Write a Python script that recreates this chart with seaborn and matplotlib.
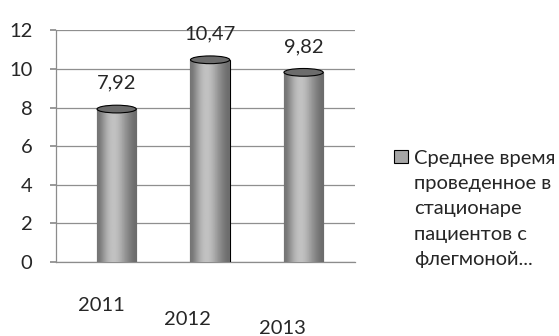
import numpy as np
import pandas as pd
import matplotlib
matplotlib.use("Agg")
import matplotlib.pyplot as plt
import matplotlib.transforms as mtransforms
from matplotlib.patches import Ellipse, Patch
import seaborn as sns

years = ["2011", "2012", "2013"]
values = [7.92, 10.47, 9.82]
value_labels = ["7,92", "10,47", "9,82"]
series_name = "Среднее время\nпроведенное в\nстационаре\nпациентов с\nфлегмоной..."

sns.set_theme(style="white")
plt.rcParams['font.family'] = ['Lato', 'DejaVu Sans']
FS = 14.5

df = pd.DataFrame({"year": years, "value": values})

fig = plt.figure(figsize=(5.59, 3.36), dpi=100)
ax = fig.add_axes([0.100, 0.22, 0.535, 0.69])

sns.barplot(data=df, x="year", y="value", color="#a6a6a6", width=0.42,
            edgecolor="black", linewidth=0.8, ax=ax, zorder=3)

ax.set_ylim(0, 12)
ax.set_yticks(np.arange(0, 13, 2))
ax.set_xlim(-0.65, 2.55)
ax.yaxis.grid(True, color="#8f8f8f", linewidth=0.9, zorder=0)
ax.set_axisbelow(True)
for s in ["top", "right"]:
    ax.spines[s].set_visible(False)
for s in ["left", "bottom"]:
    ax.spines[s].set_color("#8c8c8c")
    ax.spines[s].set_linewidth(0.9)
ax.tick_params(axis="y", length=4, color="#8c8c8c", labelsize=FS, pad=13, left=True)
ax.tick_params(axis="x", length=0, labelsize=FS)
ax.set_xlabel("")
ax.set_ylabel("")

# staggered year labels like the perspective view
for tick, pad in zip(ax.xaxis.get_major_ticks(), [25, 35, 42]):
    tick.set_pad(pad)
for lab, dx in zip(ax.get_xticklabels(), [-15, -23, -21]):
    shift = mtransforms.ScaledTranslation(dx / 100, 0, fig.dpi_scale_trans)
    lab.set_transform(lab.get_transform() + shift)

# cylinder shading: gradient clipped to each bar plus an elliptic top
grad = np.array([[0.45, 0.62, 0.74, 0.77, 0.71, 0.6, 0.5, 0.42]])
for p in ax.patches:
    x0, y0 = p.get_x(), p.get_y()
    w, h = p.get_width(), p.get_height()
    im = ax.imshow(grad, cmap="gray", vmin=0, vmax=1, aspect="auto",
                   extent=[x0, x0 + w, y0, y0 + h], zorder=3.5,
                   interpolation="bicubic")
    im.set_clip_path(p)
    ax.add_patch(Ellipse((x0 + w / 2, y0 + h), w, 0.4, facecolor="#6c6c6c",
                         edgecolor="black", linewidth=0.8, zorder=4))

ax.set_xlim(-0.65, 2.55)
ax.set_ylim(0, 12)

for i, (v, lab) in enumerate(zip(values, value_labels)):
    ax.annotate(lab, (i, v), xytext=(0, 12.5), textcoords="offset points",
                ha="center", va="bottom", fontsize=FS, zorder=5)

handle = Patch(facecolor="#a6a6a6", edgecolor="black", linewidth=0.8)
leg = fig.legend([handle], [series_name], loc="upper left",
                 bbox_to_anchor=(0.705, 0.555), frameon=False, fontsize=FS,
                 handlelength=0.69, handleheight=0.69, handletextpad=0.28,
                 borderpad=0, borderaxespad=0)
for t in leg.get_texts():
    t.set_linespacing(1.6)
for col in leg._legend_handle_box.get_children():
    for item in col.get_children():
        item.align = "top"

fig.savefig("out.png", dpi=100)
